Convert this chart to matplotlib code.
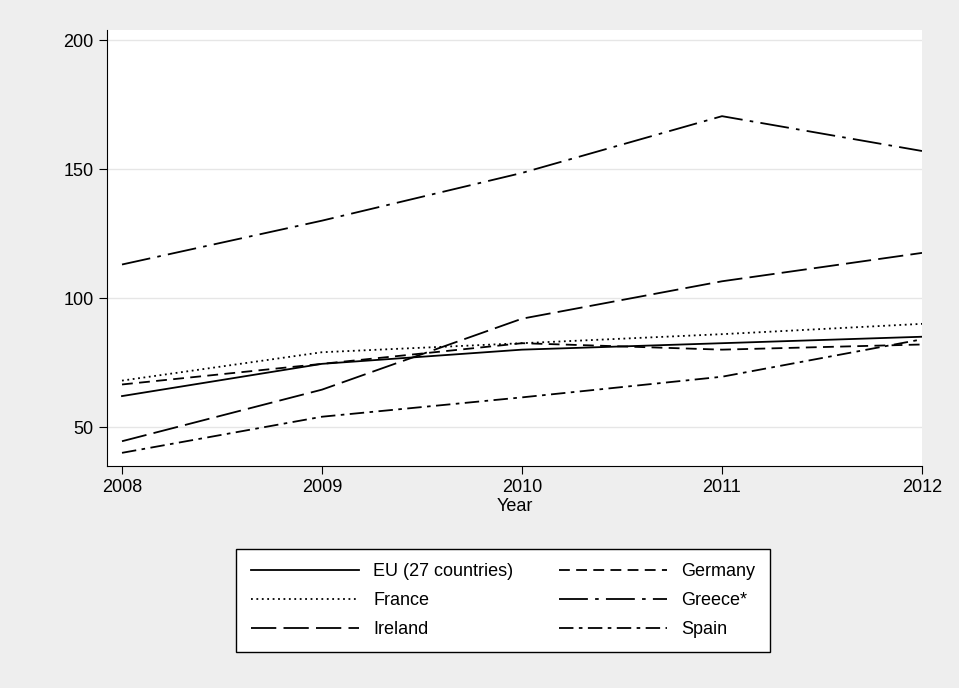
import matplotlib
matplotlib.use("Agg")
import matplotlib.pyplot as plt

plt.rcParams['font.family'] = ['Liberation Sans', 'DejaVu Sans']
years = [2008, 2009, 2010, 2011, 2012]
eu = [62, 74.5, 80, 82.5, 85]
france = [68, 79, 82.5, 86, 90]
germany = [66.5, 74.5, 82.5, 80, 82]
greece = [113, 130, 148.5, 170.5, 157]
ireland = [44.5, 64.5, 92, 106.5, 117.5]
spain = [40, 54, 61.5, 69.5, 84]

fig = plt.figure(figsize=(9.59, 6.88), dpi=100, facecolor='#eeeeee')
ax = fig.add_axes([107/959, 1-466/688, (922-107)/959, (466-30)/688])
ax.set_facecolor('white')
k = dict(color='black', lw=1.3)
h = {}
h['eu'], = ax.plot(years, eu, linestyle='-', label='EU (27 countries)', **k)
h['de'], = ax.plot(years, germany, linestyle=(0, (6, 3.5)), label='Germany', **k)
h['fr'], = ax.plot(years, france, linestyle=(0, (1, 2)), label='France', **k)
h['gr'], = ax.plot(years, greece, linestyle=(0, (16, 4, 2, 4)), label='Greece*', **k)
h['ie'], = ax.plot(years, ireland, linestyle=(0, (14, 4)), label='Ireland', **k)
h['es'], = ax.plot(years, spain, linestyle=(0, (8, 3, 2, 3)), label='Spain', **k)
ax.set_xlim(2007.925, 2012)
ax.set_ylim(34.9, 203.9)
ax.set_yticks([50, 100, 150, 200])
ax.set_xticks(years)
ax.grid(axis='y', color='#e6e6e6', lw=1)
ax.set_axisbelow(True)
for s in ['top', 'right']:
    ax.spines[s].set_visible(False)
ax.tick_params(labelsize=13, length=6, direction='out')
ax.set_xlabel('Year', fontsize=13, labelpad=1)
order = ['eu', 'fr', 'ie', 'de', 'gr', 'es']
hs = [h[o] for o in order]
fig.legend(hs, [x.get_label() for x in hs], loc='upper center',
           bbox_to_anchor=(503/959, 1-540/688), ncol=2,
           fontsize=13, frameon=True, fancybox=False, edgecolor='black',
           facecolor='white', framealpha=1,
           handlelength=6, columnspacing=2.5, labelspacing=0.65,
           borderpad=0.8)
fig.savefig('out.png', dpi=100, facecolor=fig.get_facecolor())
